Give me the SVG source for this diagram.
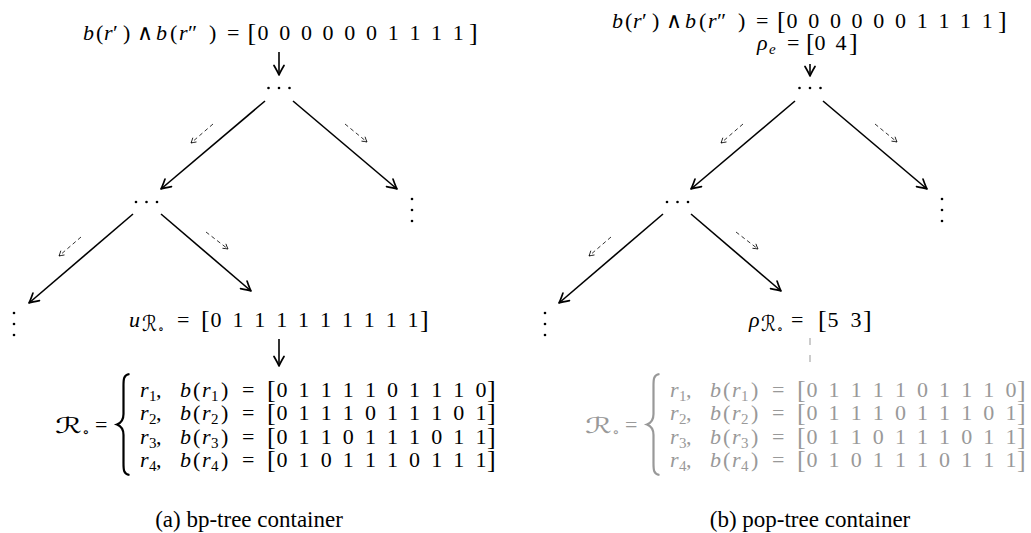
<svg xmlns="http://www.w3.org/2000/svg" width="1031" height="533" viewBox="0 0 1031 533">
<style>
text{font-family:"Liberation Serif","DejaVu Serif",serif;font-size:22px;fill:#000}
.i{font-style:italic}
.s{font-size:15px}
.ss{font-size:12px}
.cal{font-family:"DejaVu Serif","DejaVu Sans",serif;font-style:normal}
.br{font-size:26px}
.d{text-anchor:middle}
.g text,text.g{fill:#999}
.main{stroke:#000;stroke-width:1.6;fill:none}
.dash{stroke:#000;stroke-width:0.8;fill:none;stroke-dasharray:4 3}
.dot{fill:#000}
.cap{font-size:23px}
</style>
<defs>
<marker id="ah" viewBox="-11 -6 12 12" refX="0" refY="0" markerWidth="12" markerHeight="12" orient="auto" markerUnits="userSpaceOnUse">
<path d="M -9.5 -5 Q -3 -1.2 0 0 Q -3 1.2 -9.5 5" fill="none" stroke="#000" stroke-width="1.7" stroke-linecap="round" stroke-linejoin="round"/>
</marker>
<marker id="ahs" viewBox="-6 -4 7 8" refX="0" refY="0" markerWidth="7" markerHeight="8" orient="auto" markerUnits="userSpaceOnUse">
<path d="M -4.5 -2.6 Q -1.5 -0.7 0 0 Q -1.5 0.7 -4.5 2.6" fill="none" stroke="#000" stroke-width="0.8" stroke-linecap="round"/>
</marker>
</defs>

<!-- ===== Left panel ===== -->
<g id="a-top">
<text class="i" x="83" y="40">b</text><text x="96" y="40">(</text><text class="i" x="104" y="40">r</text><text x="113" y="40">′</text><text x="123" y="40">)</text>
<text x="137" y="40">∧</text>
<text class="i" x="156" y="40">b</text><text x="170" y="40">(</text><text class="i" x="179" y="40">r</text><text x="188" y="40" font-size="24">″</text><text x="209" y="40">)</text>
<text x="227" y="40">=</text>
<text class="br" x="247.5" y="41">[</text>
<text class="d" x="263 284.7 306.4 328.1 349.8 371.5 393.2 414.9 436.6 458.3" y="40">0000001111</text>
<text class="br" x="469" y="41">]</text>
</g>

<g id="a-n1"><circle class="dot" cx="268.5" cy="88" r="1.3"/><circle class="dot" cx="279" cy="88" r="1.3"/><circle class="dot" cx="289.5" cy="88" r="1.3"/></g>
<g id="a-n2"><circle class="dot" cx="136" cy="202" r="1.3"/><circle class="dot" cx="146.5" cy="202" r="1.3"/><circle class="dot" cx="157" cy="202" r="1.3"/></g>
<g id="a-vr"><circle class="dot" cx="412" cy="199" r="1.3"/><circle class="dot" cx="412" cy="210" r="1.3"/><circle class="dot" cx="412" cy="221" r="1.3"/></g>
<g id="a-vl"><circle class="dot" cx="14" cy="313" r="1.3"/><circle class="dot" cx="14" cy="324" r="1.3"/><circle class="dot" cx="14" cy="335" r="1.3"/></g>

<g id="a-u">
<text class="i" x="129" y="327">u</text>
<text class="cal" x="142" y="331" font-size="16" textLength="15" lengthAdjust="spacingAndGlyphs">ℛ</text><text class="ss" x="158" y="333">∘</text>
<text x="177" y="327">=</text>
<text class="br" x="201" y="328">[</text>
<text class="d" x="216 237.9 259.8 281.7 303.6 325.5 347.4 369.3 391.2 413.1" y="327">0111111111</text>
<text class="br" x="420" y="328">]</text>
</g>

<g id="a-set">
<text class="cal" x="55" y="433" font-size="24" textLength="27" lengthAdjust="spacingAndGlyphs">ℛ</text><text class="s" x="82" y="437">∘</text>
<text x="95" y="432">=</text>
<path d="M 129.5 374 C 123 375, 123.5 380, 123.5 388 L 123.5 414 C 123.5 420, 121 423, 117 424.5 C 121 426, 123.5 429, 123.5 435 L 123.5 461 C 123.5 469, 123 474, 129.5 475" fill="none" stroke="#000" stroke-width="2.2"/>
<g>
<text class="i" x="140" y="397">r</text><text class="s" x="149" y="401">1</text><text x="156" y="397">,</text>
<text class="i" x="180" y="397">b</text><text x="193" y="397">(</text><text class="i" x="202" y="397">r</text><text class="s" x="211" y="401">1</text><text x="221" y="397">)</text>
<text x="242" y="397">=</text><text class="br" x="267" y="398">[</text>
<text class="d" x="282 304.1 326.2 348.3 370.4 392.5 414.6 436.7 458.8 480.9" y="397">0111101110</text>
<text class="br" x="487" y="398">]</text>
</g>
<g>
<text class="i" x="140" y="420">r</text><text class="s" x="149" y="424">2</text><text x="156" y="420">,</text>
<text class="i" x="180" y="420">b</text><text x="193" y="420">(</text><text class="i" x="202" y="420">r</text><text class="s" x="211" y="424">2</text><text x="221" y="420">)</text>
<text x="242" y="420">=</text><text class="br" x="267" y="421">[</text>
<text class="d" x="282 304.1 326.2 348.3 370.4 392.5 414.6 436.7 458.8 480.9" y="420">0111011101</text>
<text class="br" x="487" y="421">]</text>
</g>
<g>
<text class="i" x="140" y="444">r</text><text class="s" x="149" y="448">3</text><text x="156" y="444">,</text>
<text class="i" x="180" y="444">b</text><text x="193" y="444">(</text><text class="i" x="202" y="444">r</text><text class="s" x="211" y="448">3</text><text x="221" y="444">)</text>
<text x="242" y="444">=</text><text class="br" x="267" y="445">[</text>
<text class="d" x="282 304.1 326.2 348.3 370.4 392.5 414.6 436.7 458.8 480.9" y="444">0110111011</text>
<text class="br" x="487" y="445">]</text>
</g>
<g>
<text class="i" x="140" y="467">r</text><text class="s" x="149" y="471">4</text><text x="156" y="467">,</text>
<text class="i" x="180" y="467">b</text><text x="193" y="467">(</text><text class="i" x="202" y="467">r</text><text class="s" x="211" y="471">4</text><text x="221" y="467">)</text>
<text x="242" y="467">=</text><text class="br" x="267" y="468">[</text>
<text class="d" x="282 304.1 326.2 348.3 370.4 392.5 414.6 436.7 458.8 480.9" y="467">0101110111</text>
<text class="br" x="487" y="468">]</text>
</g>
</g>

<g id="a-caption"><text class="cap d" x="249" y="527">(a) bp-tree container</text></g>

<!-- ===== Right panel ===== -->
<g id="b-top">
<text class="i" x="612" y="28">b</text><text x="625" y="28">(</text><text class="i" x="633" y="28">r</text><text x="642" y="28">′</text><text x="652" y="28">)</text>
<text x="666" y="28">∧</text>
<text class="i" x="685" y="28">b</text><text x="699" y="28">(</text><text class="i" x="708" y="28">r</text><text x="717" y="28" font-size="24">″</text><text x="738" y="28">)</text>
<text x="756" y="28">=</text>
<text class="br" x="777" y="29">[</text>
<text class="d" x="792 813.7 835.4 857.1 878.8 900.5 922.2 943.9 965.6 987.3" y="28">0000001111</text>
<text class="br" x="998" y="29">]</text>
<text class="i" x="757" y="50">ρ</text><text class="i s" x="769" y="54">e</text>
<text x="787" y="50">=</text>
<text class="br" x="806" y="51">[</text>
<text class="d" x="820 841" y="50">04</text>
<text class="br" x="849" y="51">]</text>
</g>

<g id="b-n1"><circle class="dot" cx="799.5" cy="88" r="1.3"/><circle class="dot" cx="810" cy="88" r="1.3"/><circle class="dot" cx="820.5" cy="88" r="1.3"/></g>
<g id="b-n2"><circle class="dot" cx="667" cy="202" r="1.3"/><circle class="dot" cx="677.5" cy="202" r="1.3"/><circle class="dot" cx="688" cy="202" r="1.3"/></g>
<g id="b-vr"><circle class="dot" cx="942" cy="199" r="1.3"/><circle class="dot" cx="942" cy="210" r="1.3"/><circle class="dot" cx="942" cy="221" r="1.3"/></g>
<g id="b-vl"><circle class="dot" cx="545" cy="313" r="1.3"/><circle class="dot" cx="545" cy="324" r="1.3"/><circle class="dot" cx="545" cy="335" r="1.3"/></g>

<g id="b-rho">
<text class="i" x="749" y="327">ρ</text>
<text class="cal" x="761" y="331" font-size="16" textLength="15" lengthAdjust="spacingAndGlyphs">ℛ</text><text class="ss" x="777" y="333">∘</text>
<text x="791" y="327">=</text>
<text class="br" x="818" y="328">[</text>
<text class="d" x="833 856" y="327">53</text>
<text class="br" x="863" y="328">]</text>
</g>

<g id="b-set" class="g">
<text class="cal" x="585" y="433" font-size="24" textLength="27" lengthAdjust="spacingAndGlyphs">ℛ</text><text class="s" x="612" y="437">∘</text>
<text x="625" y="432">=</text>
<path d="M 659.5 374 C 653 375, 653.5 380, 653.5 388 L 653.5 414 C 653.5 420, 651 423, 647 424.5 C 651 426, 653.5 429, 653.5 435 L 653.5 461 C 653.5 469, 653 474, 659.5 475" fill="none" stroke="#999" stroke-width="2.2"/>
<g>
<text class="i" x="670" y="397">r</text><text class="s" x="679" y="401">1</text><text x="686" y="397">,</text>
<text class="i" x="710" y="397">b</text><text x="723" y="397">(</text><text class="i" x="732" y="397">r</text><text class="s" x="741" y="401">1</text><text x="751" y="397">)</text>
<text x="772" y="397">=</text><text class="br" x="797" y="398">[</text>
<text class="d" x="812 834.1 856.2 878.3 900.4 922.5 944.6 966.7 988.8 1010.9" y="397">0111101110</text>
<text class="br" x="1017" y="398">]</text>
</g>
<g>
<text class="i" x="670" y="420">r</text><text class="s" x="679" y="424">2</text><text x="686" y="420">,</text>
<text class="i" x="710" y="420">b</text><text x="723" y="420">(</text><text class="i" x="732" y="420">r</text><text class="s" x="741" y="424">2</text><text x="751" y="420">)</text>
<text x="772" y="420">=</text><text class="br" x="797" y="421">[</text>
<text class="d" x="812 834.1 856.2 878.3 900.4 922.5 944.6 966.7 988.8 1010.9" y="420">0111011101</text>
<text class="br" x="1017" y="421">]</text>
</g>
<g>
<text class="i" x="670" y="444">r</text><text class="s" x="679" y="448">3</text><text x="686" y="444">,</text>
<text class="i" x="710" y="444">b</text><text x="723" y="444">(</text><text class="i" x="732" y="444">r</text><text class="s" x="741" y="448">3</text><text x="751" y="444">)</text>
<text x="772" y="444">=</text><text class="br" x="797" y="445">[</text>
<text class="d" x="812 834.1 856.2 878.3 900.4 922.5 944.6 966.7 988.8 1010.9" y="444">0110111011</text>
<text class="br" x="1017" y="445">]</text>
</g>
<g>
<text class="i" x="670" y="467">r</text><text class="s" x="679" y="471">4</text><text x="686" y="467">,</text>
<text class="i" x="710" y="467">b</text><text x="723" y="467">(</text><text class="i" x="732" y="467">r</text><text class="s" x="741" y="471">4</text><text x="751" y="467">)</text>
<text x="772" y="467">=</text><text class="br" x="797" y="468">[</text>
<text class="d" x="812 834.1 856.2 878.3 900.4 922.5 944.6 966.7 988.8 1010.9" y="467">0101110111</text>
<text class="br" x="1017" y="468">]</text>
</g>
</g>

<g id="b-caption"><text class="cap d" x="810" y="527">(b) pop-tree container</text></g>

<!-- ===== Connectors ===== -->
<g id="connectors">
<line class="main" x1="279" y1="52" x2="279" y2="75" marker-end="url(#ah)"/>
<line class="main" x1="265" y1="101" x2="161" y2="189" marker-end="url(#ah)"/>
<line class="main" x1="293" y1="101" x2="397" y2="189" marker-end="url(#ah)"/>
<line class="main" x1="133" y1="214" x2="29" y2="303" marker-end="url(#ah)"/>
<line class="main" x1="161" y1="214" x2="251" y2="291" marker-end="url(#ah)"/>
<line class="main" x1="279" y1="339" x2="279" y2="366" marker-end="url(#ah)"/>
<line class="dash" x1="213" y1="124" x2="191" y2="143" marker-end="url(#ahs)"/>
<line class="dash" x1="345" y1="124" x2="367" y2="142" marker-end="url(#ahs)"/>
<line class="dash" x1="81" y1="237" x2="59" y2="256" marker-end="url(#ahs)"/>
<line class="dash" x1="206" y1="232" x2="228" y2="249" marker-end="url(#ahs)"/>

<line class="main" x1="810" y1="64" x2="810" y2="76" marker-end="url(#ah)"/>
<line class="main" x1="795" y1="101" x2="691" y2="189" marker-end="url(#ah)"/>
<line class="main" x1="823" y1="101" x2="927" y2="189" marker-end="url(#ah)"/>
<line class="main" x1="663" y1="214" x2="559" y2="303" marker-end="url(#ah)"/>
<line class="main" x1="691" y1="214" x2="781" y2="291" marker-end="url(#ah)"/>
<line class="dash" x1="743" y1="124" x2="721" y2="143" marker-end="url(#ahs)"/>
<line class="dash" x1="875" y1="124" x2="897" y2="142" marker-end="url(#ahs)"/>
<line class="dash" x1="611" y1="237" x2="589" y2="256" marker-end="url(#ahs)"/>
<line class="dash" x1="736" y1="232" x2="758" y2="249" marker-end="url(#ahs)"/>
<line x1="810" y1="338" x2="810" y2="363" stroke="#999" stroke-width="1" stroke-dasharray="7 10"/>
</g>
</svg>
